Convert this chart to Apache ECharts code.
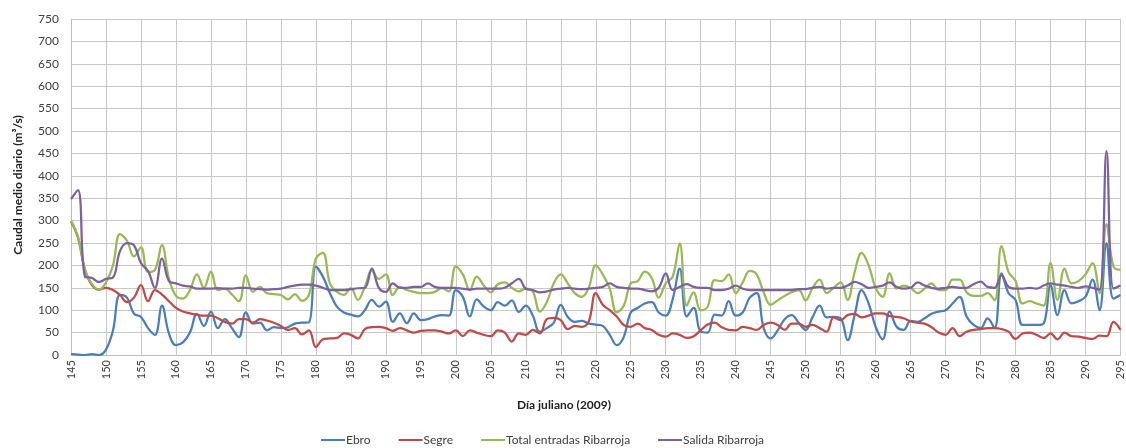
<!DOCTYPE html>
<html><head><meta charset="utf-8">
<script src="https://cdn.jsdelivr.net/npm/echarts@6/dist/echarts.min.js"></script>
<style>html,body{margin:0;padding:0;background:#fff}#c{width:1126px;height:448px}</style>
</head><body><div id="c"></div>
<script>
// Julian days 145..295 (category axis)
const days = [];
for (let d = 145; d <= 295; d++) days.push(String(d));

const seriesNames = ['Ebro', 'Segre', 'Total entradas Ribarroja', 'Salida Ribarroja'];
const yTicks = { min: 0, max: 750, interval: 50 };

const ebro = [
  2, 1, 0, 2, 0, 12, 55, 134, 128, 92,
  85, 60, 45, 110, 48, 22, 28, 50, 92, 65,
  97, 60, 80, 60, 40, 95, 70, 72, 55, 62,
  60, 62, 70, 72, 73, 197, 175, 138, 108, 95,
  90, 86, 100, 123, 108, 119, 74, 93, 71, 93,
  78, 80, 86, 89, 88, 145, 130, 86, 124, 108,
  100, 118, 110, 122, 96, 110, 88, 52, 60, 72,
  112, 85, 74, 76, 70, 68, 65, 45, 22, 40,
  95, 105, 115, 118, 95, 88, 125, 193, 86, 105,
  52, 50, 90, 88, 120, 88, 95, 128, 138, 60,
  37, 55, 80, 89, 72, 56, 85, 110, 84, 85,
  82, 33, 89, 145, 115, 63, 35, 97, 63, 56,
  76, 74, 82, 92, 97, 100, 115, 130, 86, 67,
  60, 82, 60, 182, 138, 123, 67, 67, 67, 70,
  156, 89, 145, 115, 120, 130, 168, 100, 250, 126,
  134
];
const segre = [
  298, 262, 190, 156, 146, 150, 145, 134, 118, 128,
  156, 120, 145, 135, 120, 105, 97, 93, 90, 88,
  88, 82, 74, 70, 80, 80, 72, 80, 77, 72,
  65, 56, 60, 46, 55, 18, 35, 37, 38, 48,
  45, 37, 58, 62, 63, 60, 54, 60, 55, 50,
  54, 55, 55, 52, 48, 55, 42, 55, 50, 45,
  42, 55, 50, 30, 48, 45, 56, 48, 80, 83,
  78, 58, 65, 63, 75, 138, 112, 100, 86, 67,
  63, 70, 60, 56, 45, 41, 48, 45, 38, 42,
  55, 68, 72, 62, 56, 55, 63, 60, 56, 67,
  72, 67, 56, 70, 70, 63, 67, 60, 52, 84,
  78, 89, 92, 84, 88, 93, 93, 87, 85, 82,
  75, 72, 70, 62, 50, 45, 60, 42, 52, 56,
  58, 60, 60, 58, 52, 36, 48, 50, 45, 38,
  48, 35, 50, 42, 41, 38, 36, 43, 42, 74,
  56
];
const totalEntradas = [
  300, 264, 190, 158, 146, 162, 200, 270, 255, 220,
  240, 185, 190, 245, 170, 132, 126, 145, 180, 150,
  186, 145, 148, 135, 120, 178, 141, 152, 138, 136,
  134, 124, 136, 121, 134, 215, 228, 160, 141, 134,
  149, 123, 152, 188, 170, 180, 134, 152, 145, 141,
  138, 138, 141, 149, 142, 198, 180, 145, 175, 155,
  140, 158, 162, 150, 142, 148, 142, 97, 118, 160,
  180, 160, 138, 130, 150, 200, 180, 148, 95, 110,
  160, 165, 186, 172, 128, 160, 175, 249, 110, 140,
  100, 108, 167, 165, 180, 138, 162, 188, 180, 140,
  112, 122, 132, 140, 145, 122, 150, 168, 138, 150,
  162, 123, 185, 228, 200, 150, 130, 182, 148, 155,
  150, 138, 148, 160, 145, 145, 168, 168, 140, 132,
  132, 138, 122, 243, 185, 165, 115, 120, 115, 110,
  205, 123, 193, 160, 165, 180, 205, 138, 292, 197,
  190
];
const salida = [
  348, 368, 175, 172, 163, 170, 173, 232, 250, 245,
  205, 188, 150, 215, 165, 160, 155, 153, 148, 148,
  148, 149, 148, 148, 150, 150, 148, 147, 146, 147,
  148, 152, 155, 157, 157, 155, 150, 145, 145, 145,
  147, 149, 150, 193, 150, 141, 160, 150, 150, 152,
  152, 160, 152, 150, 150, 150, 148, 146, 148, 148,
  148, 148, 150, 160, 170, 148, 145, 140, 142, 146,
  148, 150, 148, 147, 148, 150, 152, 160, 152, 150,
  148, 148, 145, 142, 150, 182, 145, 152, 158, 152,
  150, 150, 145, 145, 148, 155, 148, 145, 145, 145,
  145, 145, 145, 145, 147, 147, 150, 152, 148, 150,
  150, 155, 163, 158, 150, 152, 155, 162, 152, 148,
  150, 162, 155, 150, 148, 150, 152, 150, 150, 158,
  164, 152, 150, 178, 152, 148, 148, 150, 148, 155,
  160, 157, 155, 152, 150, 153, 150, 146, 455, 148,
  155
];

const colors = ['#4a7ebb', '#be4b48', '#98b954', '#7d60a0'];
const FONT = 'Lato, "Liberation Sans", sans-serif';

const chart = echarts.init(document.getElementById('c'), null, { renderer: 'canvas' });
const dataSets = [ebro, segre, totalEntradas, salida];

chart.setOption({
  animation: false,
  backgroundColor: '#ffffff',
  textStyle: { fontFamily: FONT },
  grid: { left: 71, top: 19, right: 0, bottom: 93, containLabel: false },
  legend: {
    data: seriesNames,
    left: 316, top: 429,
    icon: 'rect', itemWidth: 24, itemHeight: 2, itemGap: 28,
    textStyle: { fontSize: 12, color: '#404040', fontFamily: FONT, padding: [0, 0, 0, -4] }
  },
  xAxis: {
    type: 'category', data: days, boundaryGap: false,
    axisLine: { lineStyle: { color: '#bfbfbf', width: 1 } },
    axisTick: { show: false },
    axisLabel: { interval: 4, rotate: 90, fontSize: 11, color: '#404040', margin: 5, fontFamily: FONT },
    splitLine: { show: true, interval: 4, lineStyle: { color: '#c8c8c8', width: 1 } }
  },
  yAxis: {
    type: 'value', min: yTicks.min, max: yTicks.max, interval: yTicks.interval,
    axisLine: { show: true, lineStyle: { color: '#bfbfbf', width: 1 } },
    axisTick: { show: false },
    axisLabel: { fontSize: 12, color: '#404040', margin: 12, fontFamily: FONT },
    splitLine: { show: true, lineStyle: { color: '#c8c8c8', width: 1 } }
  },
  graphic: [
    { type: 'text', x: 18, y: 185, rotation: Math.PI / 2,
      style: { text: 'Caudal medio diario (m³/s)', font: 'bold 12px ' + FONT, fill: '#222',
               textAlign: 'center', textVerticalAlign: 'middle' } },
    { type: 'text', x: 564, y: 405,
      style: { text: 'Día juliano (2009)', font: 'bold 12px ' + FONT, fill: '#222',
               textAlign: 'center', textVerticalAlign: 'middle' } }
  ],
  series: seriesNames.map((name, i) => ({
    name, type: 'line', data: dataSets[i],
    showSymbol: false, symbol: 'none', smooth: 0.4,
    lineStyle: { width: 2.25, color: colors[i] },
    itemStyle: { color: colors[i] }
  }))
});
</script></body></html>
